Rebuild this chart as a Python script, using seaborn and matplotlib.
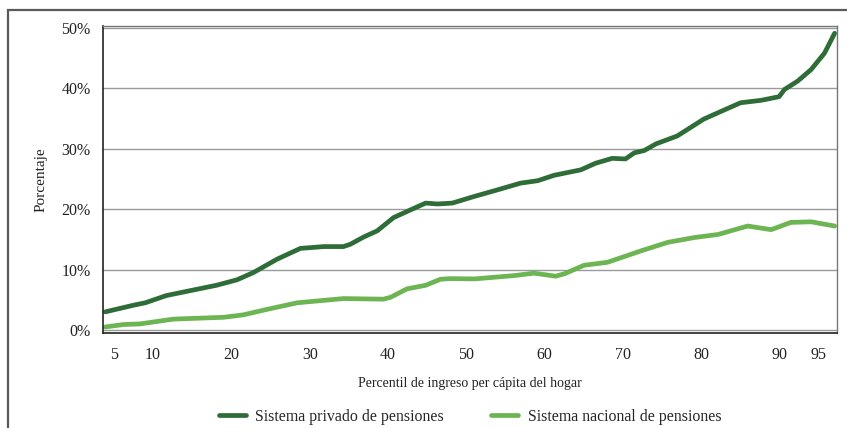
import numpy as np
import pandas as pd
import seaborn as sns
import matplotlib.pyplot as plt
from matplotlib.patches import Rectangle
from matplotlib.ticker import FuncFormatter

# Percentil de ingreso per cápita del hogar (lectura aproximada del gráfico)
percentil_privado = [3.9, 7.5, 9.0, 11.7, 14.7, 18.1, 20.7, 22.8, 25.8, 28.8, 31.8, 34.3,
                     35.2, 36.9, 38.6, 40.7, 42.9, 44.8, 46.3, 48.2, 51.0, 54.0, 56.9,
                     59.1, 61.2, 64.6, 66.5, 68.6, 70.3, 71.4, 72.7, 74.2, 76.9, 80.3,
                     82.9, 85.0, 87.6, 89.9, 90.6, 92.3, 94.0, 95.7, 97.0]
privado = [3.0, 4.1, 4.5, 5.7, 6.5, 7.4, 8.3, 9.5, 11.7, 13.5, 13.8, 13.8,
           14.2, 15.4, 16.4, 18.6, 19.9, 21.0, 20.85, 21.0, 22.1, 23.2, 24.3,
           24.7, 25.6, 26.5, 27.6, 28.4, 28.3, 29.3, 29.7, 30.8, 32.1, 34.9,
           36.4, 37.6, 38.0, 38.6, 39.8, 41.2, 43.1, 45.8, 49.1]

percentil_nacional = [3.9, 6.2, 8.3, 12.6, 19.0, 21.5, 24.5, 28.4, 31.8, 34.3, 39.4, 40.3,
                      42.4, 44.8, 46.7, 48.0, 51.0, 56.1, 58.6, 61.4, 62.5, 65.0, 68.0,
                      72.3, 75.7, 79.1, 82.1, 85.9, 88.9, 91.4, 94.0, 97.0]
nacional = [0.5, 0.9, 1.0, 1.8, 2.1, 2.5, 3.4, 4.5, 4.9, 5.2, 5.1, 5.4,
            6.8, 7.4, 8.4, 8.5, 8.45, 9.0, 9.4, 8.9, 9.3, 10.7, 11.2,
            13.1, 14.5, 15.3, 15.8, 17.2, 16.6, 17.8, 17.9, 17.2]

xticks = [5, 10, 20, 30, 40, 50, 60, 70, 80, 90, 95]
yticks = [0, 10, 20, 30, 40, 50]

df = pd.concat([
    pd.DataFrame({"percentil": percentil_privado, "valor": privado,
                  "serie": "Sistema privado de pensiones"}),
    pd.DataFrame({"percentil": percentil_nacional, "valor": nacional,
                  "serie": "Sistema nacional de pensiones"}),
])

sns.set_style("white")
plt.rcParams["font.family"] = ["Liberation Serif", "DejaVu Serif"]

fig = plt.figure(figsize=(8.47, 4.28), dpi=100)
ax = fig.add_axes([103 / 847, 1 - 333 / 428, (837 - 103) / 847, (333 - 26) / 428])

# marco exterior
fig.patches.append(Rectangle((8 / 847, -0.2), 1.2, 1 - 10 / 428 + 0.2,
                             transform=fig.transFigure, fill=False,
                             edgecolor="#5a5a5a", linewidth=1.6, zorder=0))

sns.lineplot(data=df, x="percentil", y="valor", hue="serie",
             palette=["#2f6d38", "#6db553"], linewidth=3.4, ax=ax,
             legend=True, solid_joinstyle="round", solid_capstyle="round")

ax.set_xlim(3.6, 97.3)
ax.set_ylim(-0.5, 50.3)
ax.set_xticks(xticks)
ax.set_yticks(yticks)
ax.yaxis.set_major_formatter(FuncFormatter(lambda v, p: f"{v:.0f}%"))
ax.tick_params(axis="both", length=0, labelsize=11.5, colors="#222222")
ax.tick_params(axis="y", pad=9)
ax.tick_params(axis="x", pad=10)
ax.grid(axis="y", color="#9a9a9a", linewidth=1.0)
ax.set_axisbelow(True)

for side in ["left", "bottom"]:
    ax.spines[side].set_color("#222222")
    ax.spines[side].set_linewidth(1.2)
for side in ["top", "right"]:
    ax.spines[side].set_color("#777777")
    ax.spines[side].set_linewidth(1.0)

ax.set_xlabel("Percentil de ingreso per cápita del hogar", fontsize=10,
              labelpad=10, color="#222222")
ax.set_ylabel("Porcentaje", fontsize=11, labelpad=10, color="#222222")

ax.legend(title=None, frameon=False, ncol=2, loc="upper center",
          bbox_to_anchor=(0.5, -0.2), fontsize=11.4, handlelength=1.7,
          columnspacing=3.0, handletextpad=0.6)

plt.savefig("out.png", dpi=100)
